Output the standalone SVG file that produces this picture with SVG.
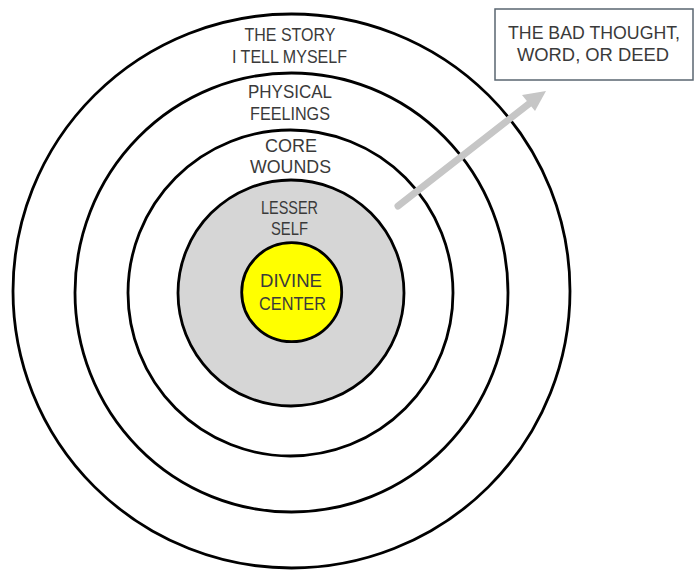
<svg xmlns="http://www.w3.org/2000/svg" width="694" height="571" viewBox="0 0 694 571">
<style>
.ring{fill:none;stroke:#000;stroke-width:2.8}
.lbl{font-family:"Liberation Sans",Arial,sans-serif;font-size:19px;fill:#3a3a3a;text-anchor:middle}
.box{fill:#fff;stroke:#5a6670;stroke-width:1.5}
.arrow{stroke:#c6c6c6;stroke-width:7;stroke-linecap:round;fill:none}
</style>
<rect width="694" height="571" fill="#fff"/>
<g id="outer-story">
<ellipse class="ring" cx="291.5" cy="291" rx="278.5" ry="277"/>
<text class="lbl" x="290" y="41" textLength="91" lengthAdjust="spacingAndGlyphs">THE STORY</text>
<text class="lbl" x="289.5" y="63" textLength="115" lengthAdjust="spacingAndGlyphs">I TELL MYSELF</text>
</g>
<g id="physical-feelings">
<ellipse class="ring" cx="291.5" cy="292.5" rx="216.5" ry="219.5"/>
<text class="lbl" x="290" y="98" textLength="84" lengthAdjust="spacingAndGlyphs">PHYSICAL</text>
<text class="lbl" x="290" y="119.5" textLength="80" lengthAdjust="spacingAndGlyphs">FEELINGS</text>
</g>
<g id="core-wounds">
<ellipse class="ring" cx="290.5" cy="293" rx="162.5" ry="163"/>
<text class="lbl" x="291" y="152" textLength="52" lengthAdjust="spacingAndGlyphs">CORE</text>
<text class="lbl" x="290.5" y="173" textLength="81" lengthAdjust="spacingAndGlyphs">WOUNDS</text>
</g>
<g id="lesser-self">
<ellipse class="ring" cx="291" cy="293" rx="113" ry="113" style="fill:#d6d6d6"/>
<text class="lbl" x="289.5" y="214" textLength="57" lengthAdjust="spacingAndGlyphs">LESSER</text>
<text class="lbl" x="289.5" y="235" textLength="37" lengthAdjust="spacingAndGlyphs">SELF</text>
</g>
<g id="divine-center">
<ellipse class="ring" cx="291.7" cy="292.2" rx="50" ry="49.5" style="fill:#ffff00"/>
<text class="lbl" x="291" y="287.3" textLength="62" lengthAdjust="spacingAndGlyphs">DIVINE</text>
<text class="lbl" x="292.5" y="310" textLength="67" lengthAdjust="spacingAndGlyphs">CENTER</text>
</g>
<g id="bad-thought">
<rect class="box" x="495" y="9" width="198" height="71"/>
<text class="lbl" x="594" y="39.3" textLength="172" lengthAdjust="spacingAndGlyphs">THE BAD THOUGHT,</text>
<text class="lbl" x="593" y="61" textLength="152" lengthAdjust="spacingAndGlyphs">WORD, OR DEED</text>
</g>
<g id="connectors">
<line class="arrow" x1="398" y1="206" x2="530" y2="103"/>
<polygon points="546,91 522,95 535,111" fill="#c6c6c6"/>
</g>
</svg>
